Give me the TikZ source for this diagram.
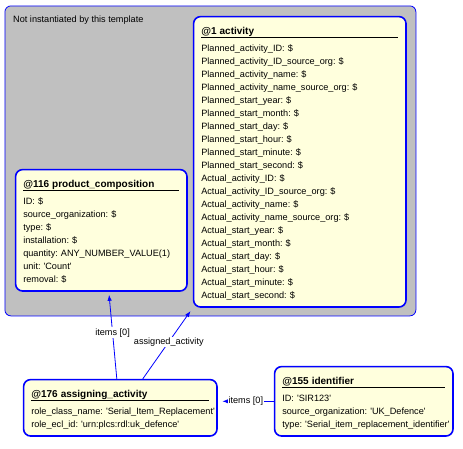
\documentclass[tikz,border=0pt]{standalone}
\usepackage{fontspec}
\setmainfont{Liberation Sans}
\usetikzlibrary{arrows.meta}

\definecolor{notefill}{RGB}{255,255,221}
\definecolor{tmplgrey}{RGB}{192,192,192}
\definecolor{linkblue}{RGB}{0,0,255}

% class fonts, header with underline, and a strut for the last line
\newcommand{\clsfont}{\fontsize{9.15}{13}\selectfont\lineskiplimit-100pt\relax\hyphenpenalty10000\relax}
\newcommand{\clshead}[1]{\rule[-2.5pt]{0pt}{14.5pt}{\fontsize{10}{13}\selectfont\bfseries #1}\par\kern0.7pt\hrule height0.9pt\relax\prevdepth0pt\relax}
\newcommand{\clsend}{\rule[-3pt]{0pt}{3pt}}
\newcommand{\strq}[1]{\textquotesingle#1\textquotesingle}

\begin{document}
\begin{tikzpicture}[
    x=1pt, y=-1pt,
    classbox/.style={rectangle, draw=linkblue, line width=1.6pt, fill=notefill, rounded corners=7pt, anchor=north west, align=left, inner xsep=7.7pt, inner ysep=5.65pt, font=\clsfont},
    tmplbox/.style={rectangle, draw=linkblue, line width=0.8pt, fill=tmplgrey, rounded corners=6pt, anchor=north west, minimum width=411pt, minimum height=310pt, inner sep=0pt},
    link/.style={-{Latex[length=6pt, width=4.5pt]}, draw=linkblue, line width=0.8pt},
    lbl/.style={fill=white, inner sep=1pt, font=\fontsize{9.15}{11}\selectfont}
]
\useasboundingbox (0,0) rectangle (463,448);

% Template area
\node[tmplbox] (tmpl) at (4.5,5.5) {};
\node[anchor=base west, inner sep=0pt, font=\fontsize{9.15}{11}\selectfont] (tmplnote) at ([xshift=8.5pt, yshift=-17.3pt]tmpl.north west) {Not instantiated by this template};

% Classes
\node[classbox, text width=197pt] (act) at (192.8,15.8) {\clshead{@1~activity}
Planned\_activity\_ID:~\$\\
Planned\_activity\_ID\_source\_org:~\$\\
Planned\_activity\_name:~\$\\
Planned\_activity\_name\_source\_org:~\$\\
Planned\_start\_year:~\$\\
Planned\_start\_month:~\$\\
Planned\_start\_day:~\$\\
Planned\_start\_hour:~\$\\
Planned\_start\_minute:~\$\\
Planned\_start\_second:~\$\\
Actual\_activity\_ID:~\$\\
Actual\_activity\_ID\_source\_org:~\$\\
Actual\_activity\_name:~\$\\
Actual\_activity\_name\_source\_org:~\$\\
Actual\_start\_year:~\$\\
Actual\_start\_month:~\$\\
Actual\_start\_day:~\$\\
Actual\_start\_hour:~\$\\
Actual\_start\_minute:~\$\\
Actual\_start\_second:~\$\clsend};

\node[classbox, text width=156pt] (prod) at (14.8,168.8) {\clshead{@116~product\_composition}
ID:~\$\\
source\_organization:~\$\\
type:~\$\\
installation:~\$\\
quantity:~ANY\_NUMBER\_VALUE(1)\\
unit:~\strq{Count}\\
removal:~\$\clsend};

\node[classbox, text width=178pt] (ass) at (22.8,378.8) {\clshead{@176~assigning\_activity}
role\_class\_name:~\strq{Serial\_Item\_Replacement}\\
role\_ecl\_id:~\strq{urn:plcs:rdl:uk\_defence}\clsend};

\node[classbox, text width=163pt] (ident) at (273.8,365.8) {\clshead{@155~identifier}
ID:~\strq{SIR123}\\
source\_organization:~\strq{UK\_Defence}\\
type:~\strq{Serial\_item\_replacement\_identifier}\clsend};

% Connections
\draw[link, shorten >=3pt] ([xshift=-3.5pt]ass.north) -- ([xshift=7.5pt]prod.south) node[lbl, pos=0.53] {items [0]};
\draw[link, shorten >=4pt] ([xshift=22.5pt]ass.north) -- (act.south west) node[lbl, pos=0.52] {assigned\_activity};
\draw[link, shorten >=4.5pt] (ident.west) -- (ident.west -| ass.east) node[lbl, midway] {items [0]};

\end{tikzpicture}
\end{document}
